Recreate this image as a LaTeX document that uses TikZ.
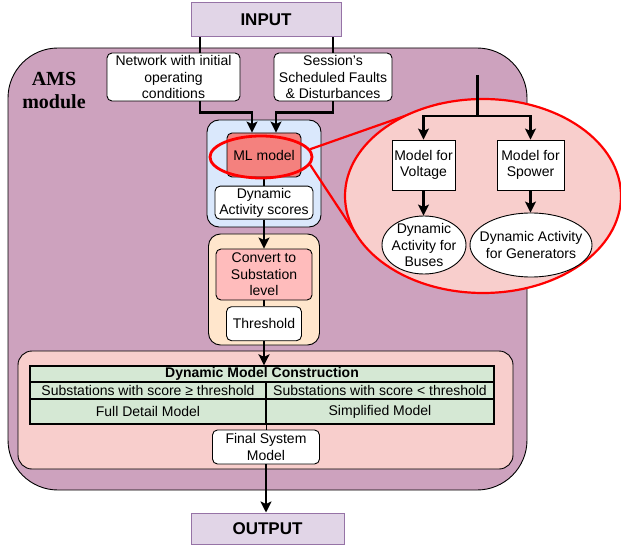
\documentclass[tikz,border=0pt]{standalone}
\usepackage{fontspec}
\setmainfont{Liberation Sans}
\newfontfamily\amsserif{Liberation Serif}
\usetikzlibrary{arrows.meta,shapes.geometric,calc}
\definecolor{inbg}{HTML}{E1D5E7}
\definecolor{inbd}{HTML}{9673A6}
\definecolor{amsbg}{HTML}{CDA2BE}
\definecolor{bluebg}{HTML}{DAE8FC}
\definecolor{mlbg}{HTML}{F4817E}
\definecolor{orbg}{HTML}{FFE6CC}
\definecolor{convbg}{HTML}{FFBCBC}
\definecolor{pinkbg}{HTML}{F8CECC}
\definecolor{tabbg}{HTML}{D5E8D4}
\definecolor{ringred}{HTML}{FF0000}
\begin{document}
\begin{tikzpicture}[x=1pt,y=-1pt,
  font=\fontsize{14}{16.5}\selectfont,
  every node/.style={inner sep=0pt, align=center},
  box/.style={draw=black, line width=0.9pt, fill=white, rounded corners=5pt},
  sqbox/.style={draw=black, line width=0.9pt, fill=white},
  group/.style={draw=black, line width=0.9pt, rounded corners=12pt},
  cell/.style={draw=black, line width=1.3pt, fill=tabbg},
  io/.style={draw=inbd, line width=1pt, fill=inbg, font=\fontsize{17}{20}\selectfont\bfseries},
  conn/.style={line width=2.3pt, black},
  arr/.style={conn, -{Stealth[length=11pt,width=11pt,inset=2.5pt]}},
  ringline/.style={draw=ringred, line width=2.2pt},
  oval/.style={ellipse, draw=black, line width=0.9pt, fill=white}
]
\useasboundingbox (0,0) rectangle (621,548);

% main module
\node[draw=black, line width=0.9pt, fill=amsbg, rounded corners=50pt,
      minimum width=519pt, minimum height=442pt] (ams) at (267.5,269) {};
\node[font=\amsserif\fontsize{20}{23}\selectfont\bfseries] (amslbl) at (54,91) {AMS\\module};

% input / output
\node[io, minimum width=150pt, minimum height=34pt] (input) at (266,20) {INPUT};
\node[io, minimum width=153pt, minimum height=31pt] (output) at (267.5,528.5) {OUTPUT};

% inputs
\node[box, minimum width=133pt, minimum height=48pt] (net) at (173.5,77)
  {Network with initial\\operating\\conditions};
\node[box, minimum width=118pt, minimum height=48pt] (sess) at (333,77)
  {Session's\\Scheduled Faults\\\& Disturbances};

% ML group
\node[group, fill=bluebg, minimum width=114pt, minimum height=107pt] (blue) at (264,173.5) {};
\node[box, fill=mlbg, minimum width=74pt, minimum height=44pt] (ml) at (264,155) {ML model};
\node[box, minimum width=98pt, minimum height=33pt] (das) at (264,202.7) {Dynamic\\Activity scores};

% substation group
\node[group, fill=orbg, minimum width=111pt, minimum height=111pt] (orange) at (264,289.5) {};
\node[box, fill=convbg, minimum width=96pt, minimum height=51pt] (conv) at (264,274.5)
  {Convert to\\Substation\\level};
\node[box, minimum width=75pt, minimum height=34pt] (thr) at (264,323.7) {Threshold};

% construction group
\node[draw=black, line width=0.9pt, fill=pinkbg, rounded corners=14pt,
      minimum width=495pt, minimum height=118pt] (pink) at (265.5,410) {};
\node[cell, minimum width=464pt, minimum height=16pt] (hdr) at (262,374)
  {\bfseries Dynamic Model Construction};
\node[cell, minimum width=236pt, minimum height=17pt] (r2l) at (148,390.5)
  {Substations with score ≥ threshold};
\node[cell, minimum width=228pt, minimum height=17pt] (r2r) at (380,390.5)
  {Substations with score < threshold};
\node[cell, minimum width=236pt, minimum height=25pt] (r3l) at (148,411.5) {Full Detail Model};
\node[cell, minimum width=228pt, minimum height=25pt] (r3r) at (380,411.5) {Simplified Model};
\node[box, minimum width=107pt, minimum height=34pt] (fsm) at (266,447) {Final System\\Model};

% connectors (left column)
\draw[conn] ([xshift=-66pt]input.south) -- ([xshift=-66pt]input.south |- net.north);
\draw[conn] (sess.north |- input.south) -- (sess.north);
\draw[arr] ([xshift=-66pt]input.south |- net.south) -- ++(0,11) -| ([xshift=-12pt]ml.north);
\draw[arr] (sess.south) -- ++(0,11) -| ([xshift=12pt]ml.north);
\draw[conn] (ml.south) -- (das.north);
\draw[arr] (das.south) -- (conv.north);
\draw[conn] (conv.south) -- (thr.north);
\draw[arr] (thr.south) -- (thr.south |- hdr.north);
\draw[line width=1.3pt] (r3l.south east) -- (fsm.north -| r3l.south east);
\draw[arr] (fsm.south) -- (fsm.south |- output.north);

% zoom ring
\node[ellipse, ringline, line width=2.8pt, minimum width=102pt, minimum height=42pt] (ring) at (261,157) {};
\node[ellipse, fill=pinkbg, minimum width=276pt, minimum height=194pt] (bigbg) at (483,196) {};
\draw[ringline] (ring.9) -- (bigbg.115);
\draw[ringline] (ring.-9) -- (bigbg.196);
\node[ellipse, ringline, fill=pinkbg, minimum width=276pt, minimum height=194pt] (big) at (483,196) {};

% inside zoom
\node[sqbox, minimum width=63pt, minimum height=50pt] (mv) at (423.5,165) {Model for\\Voltage};
\node[sqbox, minimum width=67pt, minimum height=50pt] (ms) at (530.5,165) {Model for\\Spower};
\node[oval, minimum width=84pt, minimum height=58pt] (eb) at (424,245) {};
\node (ebtxt) at (eb.center) {Dynamic\\Activity for\\Buses};
\node[oval, minimum width=122pt, minimum height=64pt] (eg) at (531,245) {};
\node (egtxt) at (eg.center) {Dynamic Activity\\for Generators};
\coordinate (src) at (477.5,75);
\coordinate (split) at (477.5,116);
\draw[conn] (src) -- (split);
\draw[arr] (split) -| (mv.north);
\draw[arr] (split) -| (ms.north);
\draw[arr] (mv.south) -- (eb.north -| mv.south);
\draw[arr] (ms.south) -- (eg.north -| ms.south);
\end{tikzpicture}
\end{document}
